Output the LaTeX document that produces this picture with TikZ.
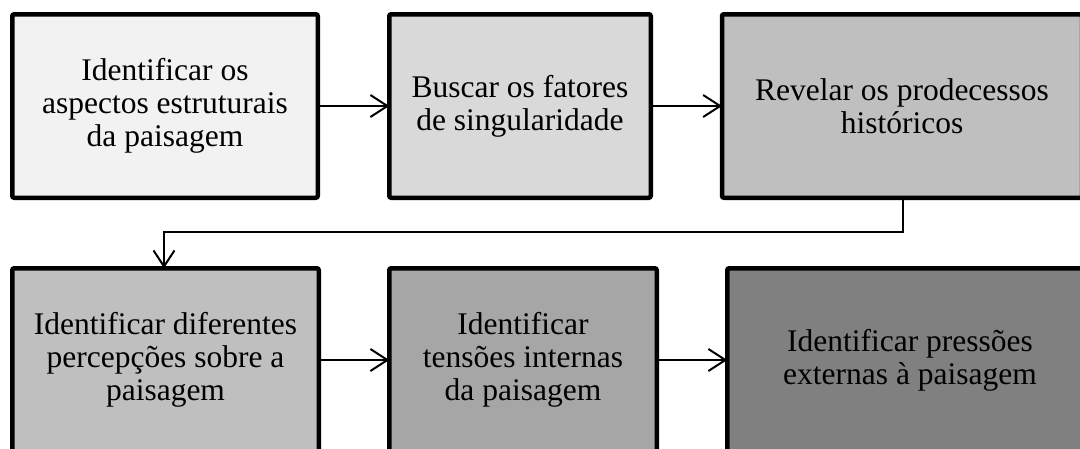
\documentclass[tikz,border=0pt]{standalone}
\usepackage{fontspec}
\setmainfont{Liberation Serif}
\usetikzlibrary{arrows.meta}
\definecolor{fa}{HTML}{F2F2F2}
\definecolor{fb}{HTML}{D9D9D9}
\definecolor{fc}{HTML}{BFBFBF}
\definecolor{fd}{HTML}{A6A6A6}
\definecolor{fe}{HTML}{808080}
\tikzset{
  stepbox/.style={draw=black, line width=4.5pt, rounded corners=2pt,
    inner sep=0pt, outer sep=0pt, align=center, minimum height=183.5pt,
    font=\fontsize{31.5}{33}\selectfont},
  flowarrow/.style={line width=2pt, -{Straight Barb[length=17pt,width=22pt,line width=2pt]}},
  elbowarrow/.style={line width=1.8pt, -{Straight Barb[length=16pt,width=21pt,line width=2pt]}}
}
\begin{document}
\begin{tikzpicture}[x=1pt,y=-1pt]
\useasboundingbox (0,0) rectangle (1080,448);
\clip (0,0) rectangle (1080,448);
\node[stepbox, fill=fa, minimum width=305.5pt] (b1) at (165,106)
  {Identificar os\\aspectos estruturais\\da paisagem};
\node[stepbox, fill=fb, minimum width=261.5pt] (b2) at (520,106)
  {Buscar os fatores\\de singularidade};
\node[stepbox, fill=fc, minimum width=360pt] (b3) at (902,106)
  {Revelar os prodecessos\\históricos};
\node[stepbox, fill=fc, minimum width=306.5pt] (b4) at (165.5,360)
  {Identificar diferentes\\percepções sobre a\\paisagem};
\node[stepbox, fill=fd, minimum width=267.5pt] (b5) at (523,360)
  {Identificar\\tensões internas\\da paisagem};
\node[stepbox, fill=fe, minimum width=365.5pt] (b6) at (910,360)
  {Identificar pressões\\externas à paisagem};
\coordinate (e1) at (903,232);
\coordinate (e2) at (164,232);
\draw[flowarrow] (b1.east) -- (b2.west);
\draw[flowarrow] (b2.east) -- (b3.west);
\draw[flowarrow] (b4.east) -- (b5.west);
\draw[flowarrow] (b5.east) -- (b6.west);
\draw[elbowarrow] (b3.south -| e1) -- (e1) -- (e2) -- (b4.north -| e2);
\end{tikzpicture}
\end{document}
